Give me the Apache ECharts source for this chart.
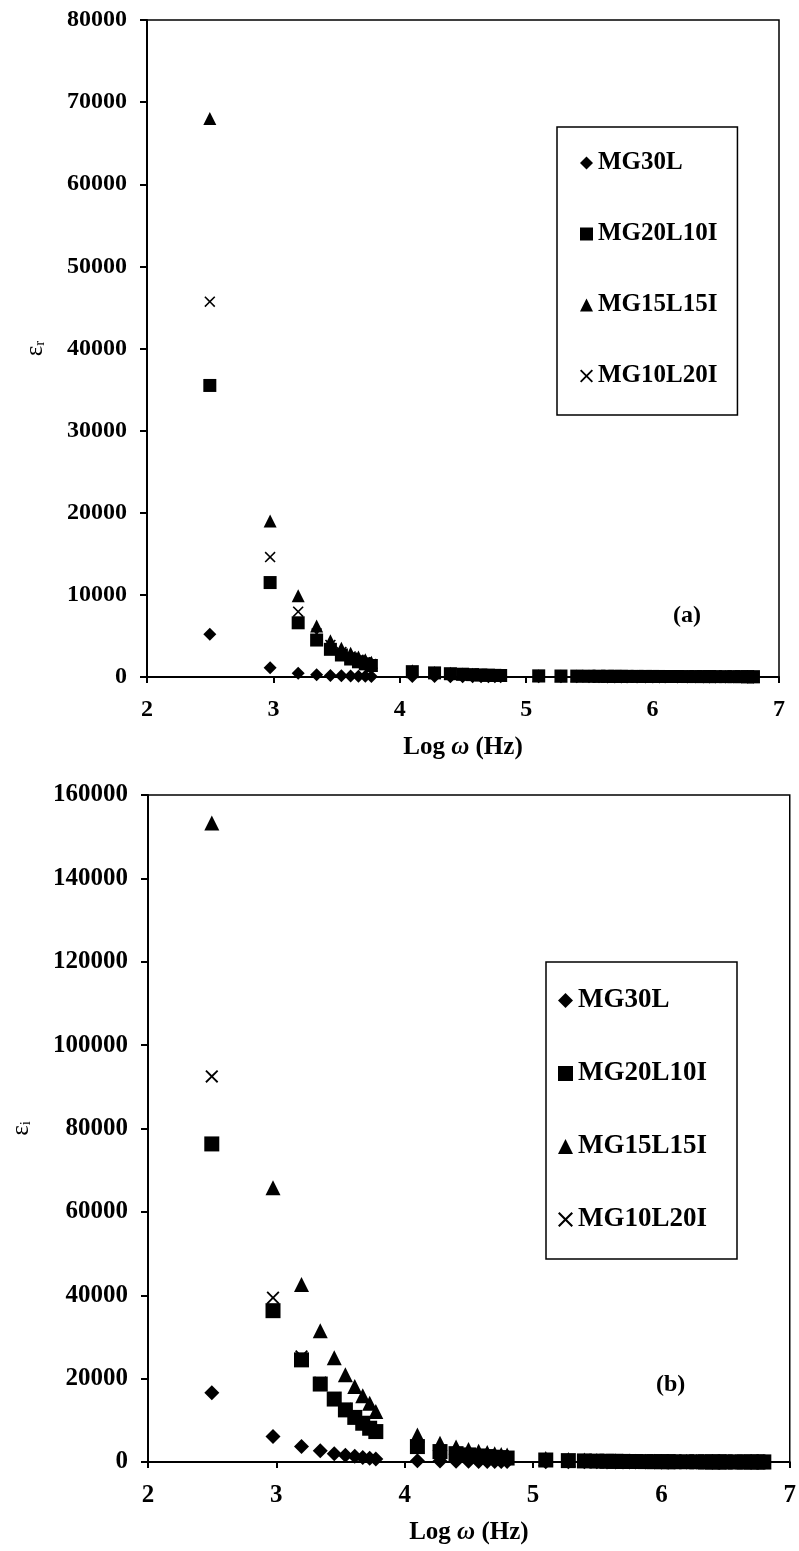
<!DOCTYPE html>
<html>
<head>
<meta charset="utf-8">
<script src="https://cdn.jsdelivr.net/npm/echarts@6/dist/echarts.min.js"></script>
<style>
  html, body { margin: 0; padding: 0; background: #fff; }
  #chart { width: 799px; height: 1551px; }
</style>
</head>
<body>
<div id="chart"></div>
<script>
// Log of angular frequency (Hz) for each measured point
const logOmega = [
  2.497, 2.974, 3.196, 3.342, 3.451, 3.538, 3.611, 3.673, 3.727, 3.775,
  4.099, 4.275, 4.400, 4.497, 4.576, 4.643, 4.701, 4.752, 4.798,
  5.099, 5.275, 5.400, 5.497, 5.576, 5.643, 5.701, 5.752, 5.798, 5.877,
  5.944, 6.002, 6.054, 6.099, 6.196, 6.275, 6.342, 6.400, 6.451, 6.497,
  6.576, 6.643, 6.701, 6.752, 6.798
];

const seriesNames = ['MG30L', 'MG20L10I', 'MG15L15I', 'MG10L20I'];

// Real part of permittivity, panel (a)
const epsR_MG30L = [
  5200, 1130, 450, 260, 180, 140, 110, 90, 80, 70,
  60, 50, 45, 40, 36, 33, 30, 28, 26,
  22, 20, 18, 17, 16, 15, 15, 14, 14, 13, 13, 12, 12, 12, 11, 11, 10, 10, 10, 10, 9, 9, 9, 9, 8
];
const epsR_MG20L10I = [
  35500, 11500, 6600, 4500, 3370, 2680, 2190, 1850, 1600, 1400,
  650, 500, 400, 340, 290, 250, 220, 200, 180,
  140, 120, 110, 100, 95, 90, 85, 80, 78, 74, 70, 67, 65, 63, 60, 57, 55, 53, 51, 50, 48, 46, 44, 43, 42
];
const epsR_MG15L15I = [
  68000, 19000, 9900, 6200, 4400, 3500, 2900, 2450, 2100, 1800,
  750, 560, 450, 380, 320, 280, 250, 225, 205,
  160, 135, 120, 110, 104, 98, 93, 88, 85, 80, 76, 73, 70, 68, 64, 61, 58, 56, 54, 53, 50, 48, 46, 45, 44
];
const epsR_MG10L20I = [
  45700, 14600, 7950, 5300, 3900, 3050, 2500, 2100, 1800, 1580,
  700, 530, 420, 360, 300, 265, 235, 210, 195,
  150, 128, 115, 105, 100, 94, 89, 84, 81, 77, 73, 70, 68, 65, 62, 59, 56, 54, 52, 51, 49, 47, 45, 44, 43
];

// Imaginary part of permittivity, panel (b)
const epsI_MG30L = [
  16600, 6100, 3700, 2700, 1950, 1600, 1350, 1100, 900, 700,
  300, 230, 190, 160, 140, 125, 110, 100, 90,
  60, 45, 38, 32, 28, 25, 22, 20, 19, 17, 15, 14, 13, 12, 11, 10, 9, 8, 8, 7, 7, 6, 6, 5, 5
];
const epsI_MG20L10I = [
  76300, 36300, 24500, 18700, 15100, 12500, 10700, 9300, 8100, 7300,
  3700, 2500, 2000, 1700, 1450, 1300, 1150, 1050, 950,
  480, 330, 260, 210, 180, 160, 140, 125, 115, 100, 88, 80, 73, 67, 62, 55, 49, 45, 42, 40, 36, 33, 31, 29, 27
];
const epsI_MG15L15I = [
  153300, 65800, 42600, 31500, 25000, 20900, 18100, 15900, 14100, 12100,
  6500, 4500, 3600, 3000, 2600, 2250, 2000, 1800, 1650,
  850, 580, 450, 370, 310, 270, 240, 215, 195, 170, 150, 135, 125, 115, 105, 92, 83, 76, 70, 66, 60, 55, 51, 48, 45
];
const epsI_MG10L20I = [
  92500, 39400, 25300, 19000, 15300, 12700, 10900, 9450, 8250, 7400,
  3900, 2650, 2100, 1780, 1520, 1350, 1200, 1090, 990,
  500, 345, 270, 220, 190, 165, 145, 130, 118, 103, 91, 82, 75, 69, 63, 56, 50, 46, 43, 41, 37, 34, 32, 30, 28
];

const xTicks = { min: 2, max: 7, interval: 1 };
const yTicksA = { min: 0, max: 80000, interval: 10000 };
const yTicksB = { min: 0, max: 160000, interval: 20000 };

const FONT = "'Liberation Serif', 'Times New Roman', serif";
const crossPath = 'path://M0,1 L1,0 L5,4 L9,0 L10,1 L6,5 L10,9 L9,10 L5,6 L1,10 L0,9 L4,5 Z';
const symbols = ['diamond', 'rect', 'triangle', crossPath];

function pairs(ys) { return logOmega.map((x, i) => [x, ys[i]]); }

function makeSeries(gridIdx, lists, sizes) {
  return lists.map((ys, k) => ({
    name: seriesNames[k],
    type: 'scatter',
    xAxisIndex: gridIdx,
    yAxisIndex: gridIdx,
    symbol: symbols[k],
    symbolSize: sizes[k],
    clip: false,
    itemStyle: { color: '#000', opacity: 1 },
    data: pairs(ys)
  }));
}

function xAxis(gridIdx, labelSize) {
  return {
    type: 'value', gridIndex: gridIdx,
    min: xTicks.min, max: xTicks.max, interval: xTicks.interval,
    name: 'Log {i|ω} (Hz)', nameLocation: 'middle', nameGap: 58,
    nameTextStyle: {
      fontFamily: FONT, fontWeight: 'bold', fontSize: 25, color: '#000',
      rich: { i: { fontFamily: FONT, fontWeight: 'bold', fontStyle: 'italic', fontSize: 25, color: '#000' } }
    },
    axisLine: { show: true, onZero: false, lineStyle: { color: '#000', width: 2 } },
    axisTick: { show: true, inside: false, length: 6, lineStyle: { color: '#000', width: 2 } },
    axisLabel: { margin: 21, fontFamily: FONT, fontWeight: 'bold', fontSize: labelSize, color: '#000' },
    splitLine: { show: false }
  };
}

function yAxis(gridIdx, ticks, sub, gap, labelSize) {
  return {
    type: 'value', gridIndex: gridIdx,
    min: ticks.min, max: ticks.max, interval: ticks.interval,
    name: '{e|ε}{s|' + sub + '}', nameLocation: 'middle', nameGap: gap, nameRotate: 90,
    nameTextStyle: {
      color: '#000',
      rich: {
        e: { fontFamily: FONT, fontSize: 25, color: '#000', lineHeight: 26, verticalAlign: 'middle' },
        s: { fontFamily: FONT, fontSize: 15, color: '#000', lineHeight: 26, verticalAlign: 'bottom' }
      }
    },
    axisLine: { show: true, lineStyle: { color: '#000', width: 2 } },
    axisTick: { show: true, inside: false, length: 7, lineStyle: { color: '#000', width: 2 } },
    axisLabel: {
      margin: 20, fontFamily: FONT, fontWeight: 'bold', fontSize: labelSize, color: '#000',
      formatter: v => String(v)
    },
    splitLine: { show: false }
  };
}

function legend(left, top, fontSize, gap, padding, iconSize) {
  return {
    orient: 'vertical', left: left, top: top,
    data: seriesNames,
    itemGap: gap, itemWidth: iconSize, itemHeight: iconSize,
    padding: padding,
    borderColor: '#000', borderWidth: 1.5, backgroundColor: '#fff',
    selectedMode: false,
    textStyle: { fontFamily: FONT, fontWeight: 'bold', fontSize: fontSize, color: '#000', lineHeight: 26 }
  };
}

const chart = echarts.init(document.getElementById('chart'), null, { renderer: 'canvas' });
chart.setOption({
  backgroundColor: '#fff',
  animation: false,
  grid: [
    { left: 147, top: 20, right: 20, bottom: 874, show: true, borderColor: '#000', borderWidth: 1.5, containLabel: false },
    { left: 148, top: 795, right: 9, bottom: 89, show: true, borderColor: '#000', borderWidth: 1.5, containLabel: false }
  ],
  xAxis: [xAxis(0, 24), xAxis(1, 25)],
  yAxis: [yAxis(0, yTicksA, 'r', 99, 24), yAxis(1, yTicksB, 'i', 114, 25)],
  legend: [
    legend(557, 127, 25, 45, [23, 20, 26, 23], 13),
    legend(546, 962, 27, 46, [25, 30, 26, 12], 15)
  ],
  graphic: [
    { type: 'text', left: 673, top: 604, style: { text: '(a)', font: "bold 24px 'Liberation Serif'", fill: '#000' } },
    { type: 'text', left: 656, top: 1373, style: { text: '(b)', font: "bold 24px 'Liberation Serif'", fill: '#000' } }
  ],
  series: [
    ...makeSeries(0, [epsR_MG30L, epsR_MG20L10I, epsR_MG15L15I, epsR_MG10L20I], [13, 13, 13, 11]),
    ...makeSeries(1, [epsI_MG30L, epsI_MG20L10I, epsI_MG15L15I, epsI_MG10L20I], [15, 15, 15, 13])
  ]
});
</script>
</body>
</html>
